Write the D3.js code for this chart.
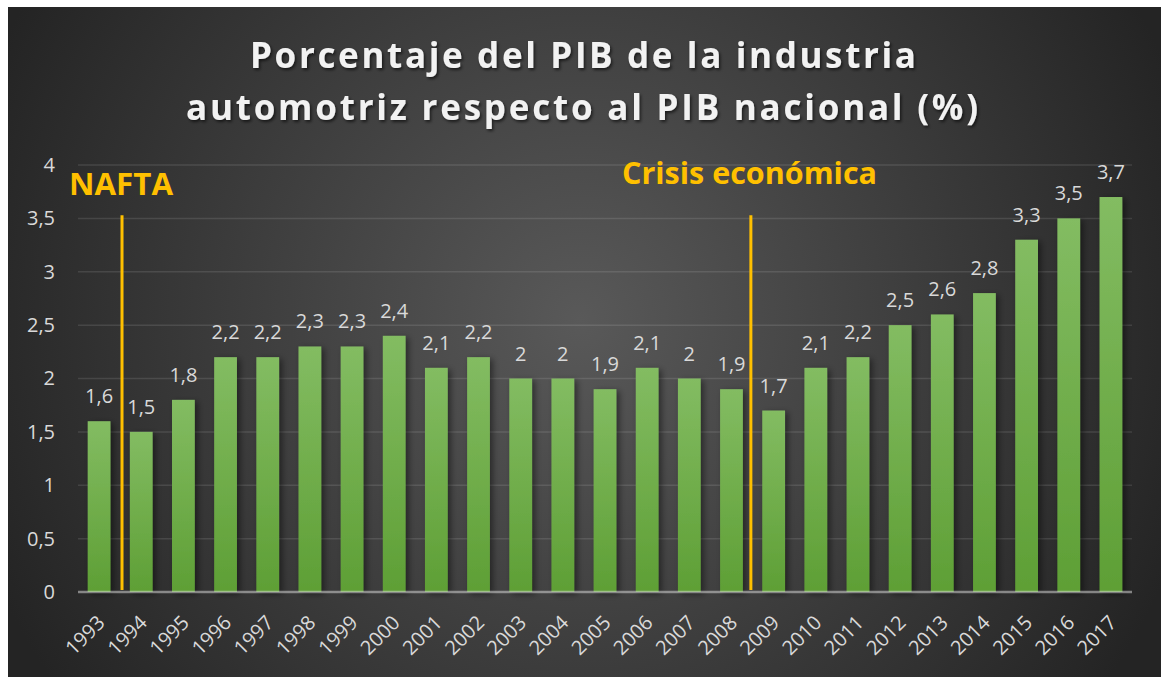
<!DOCTYPE html>
<html>
<head>
<meta charset="utf-8">
<script src="https://cdn.jsdelivr.net/npm/d3@7"></script>
<style>
  html, body { margin: 0; padding: 0; background: #ffffff; }
  svg { display: block; }
  text { font-family: "Open Sans", "Noto Sans", sans-serif; }
</style>
</head>
<body>
<svg id="chart" width="1164" height="677"></svg>
<script>
// ---- data ----
const years = ["1993","1994","1995","1996","1997","1998","1999","2000","2001","2002","2003","2004","2005","2006","2007","2008","2009","2010","2011","2012","2013","2014","2015","2016","2017"];
const values = [1.6,1.5,1.8,2.2,2.2,2.3,2.3,2.4,2.1,2.2,2,2,1.9,2.1,2,1.9,1.7,2.1,2.2,2.5,2.6,2.8,3.3,3.5,3.7];
const yTicks = [0,0.5,1,1.5,2,2.5,3,3.5,4];
const titleLines = ["Porcentaje del PIB de la industria", "automotriz respecto al PIB nacional (%)"];
const annotationLabels = ["NAFTA", "Crisis económica"];
const annotationPositions = [1.044, 15.96];   // in category steps from the left edge
const annotationTop = 3.53;

// ---- layout ----
const W = 1164, H = 677;
const plot = { left: 78, right: 1132, top: 165, bottom: 592 };

const svg = d3.select("#chart");
const defs = svg.append("defs");

const bg = defs.append("radialGradient").attr("id","bg")
  .attr("gradientUnits","userSpaceOnUse")
  .attr("cx", 580).attr("cy", 320).attr("r", 640);
bg.append("stop").attr("offset","0%").attr("stop-color","#595959");
bg.append("stop").attr("offset","100%").attr("stop-color","#242424");

const barGrad = defs.append("linearGradient").attr("id","barGrad")
  .attr("x1",0).attr("y1",0).attr("x2",0).attr("y2",1);
barGrad.append("stop").attr("offset","0%").attr("stop-color","#83bc62");
barGrad.append("stop").attr("offset","100%").attr("stop-color","#5e9f35");

const shadow = defs.append("filter").attr("id","shadow")
  .attr("x","-30%").attr("y","-10%").attr("width","180%").attr("height","130%");
shadow.append("feDropShadow").attr("dx",3).attr("dy",2).attr("stdDeviation",3)
  .attr("flood-color","#000").attr("flood-opacity",0.45);

const tshadow = defs.append("filter").attr("id","tshadow")
  .attr("x","-10%").attr("y","-30%").attr("width","120%").attr("height","160%");
tshadow.append("feDropShadow").attr("dx",1.5).attr("dy",2).attr("stdDeviation",1.5)
  .attr("flood-color","#000").attr("flood-opacity",0.6);

svg.append("rect").attr("x",8).attr("y",7).attr("width",1153).attr("height",670)
  .attr("fill","url(#bg)");

// ---- scales ----
const x = d3.scaleBand().domain(years).range([plot.left, plot.right])
  .paddingInner(0.46).paddingOuter(0.23);
const y = d3.scaleLinear().domain([0,4]).range([plot.bottom, plot.top]);

const locale = d3.formatLocale({decimal: ",", thousands: ".", grouping: [3], currency: ["","€"]});
const fmt = v => locale.format(",")(v);

// ---- gridlines ----
svg.append("g").selectAll("line").data(yTicks.filter(t => t > 0)).join("line")
  .attr("x1", plot.left).attr("x2", plot.right)
  .attr("y1", d => y(d)).attr("y2", d => y(d))
  .attr("stroke","rgba(255,255,255,0.11)").attr("stroke-width",1.5);

// ---- y axis labels ----
const yAxis = d3.axisLeft(y).tickValues(yTicks).tickFormat(fmt).tickSize(0).tickPadding(23);
const yg = svg.append("g").attr("transform",`translate(${plot.left},0)`).call(yAxis);
yg.select(".domain").remove();
yg.selectAll("text").attr("fill","#d9d9d9").attr("font-size",20)
  .style("font-family","'Open Sans', sans-serif");

// ---- bars ----
svg.append("g").selectAll("rect").data(years).join("rect")
  .attr("x", d => x(d))
  .attr("width", x.bandwidth())
  .attr("y", (d,i) => y(values[i]))
  .attr("height", (d,i) => y(0) - y(values[i]))
  .attr("fill","url(#barGrad)")
  .attr("filter","url(#shadow)");

// ---- x axis line ----
svg.append("line").attr("x1", plot.left).attr("x2", plot.right)
  .attr("y1", y(0)).attr("y2", y(0))
  .attr("stroke","rgba(225,225,225,0.5)").attr("stroke-width",2.5);

// ---- x labels ----
const xAxis = d3.axisBottom(x).tickSize(0).tickPadding(0);
const xg = svg.append("g").attr("transform",`translate(0,${y(0)})`).call(xAxis);
xg.select(".domain").remove();
xg.selectAll("text")
  .attr("fill","#d9d9d9").attr("font-size",20)
  .style("font-family","'Open Sans', sans-serif")
  .attr("text-anchor","end")
  .attr("y",0).attr("dy",0)
  .attr("transform","translate(7,32) rotate(-45)");

// ---- data labels ----
svg.append("g").selectAll("text").data(years).join("text")
  .attr("x", d => x(d) + x.bandwidth()/2)
  .attr("y", (d,i) => y(values[i]) - 18)
  .attr("text-anchor","middle")
  .attr("fill","#d9d9d9").attr("font-size",20)
  .text((d,i) => fmt(values[i]));

// ---- annotations ----
const step = x.step();
svg.append("g").selectAll("line").data(annotationPositions).join("line")
  .attr("x1", p => plot.left + p*step).attr("x2", p => plot.left + p*step)
  .attr("y1", y(annotationTop)).attr("y2", y(0) - 2)
  .attr("stroke","#ffc000").attr("stroke-width",3);

const annX = [69, 622];
const annY = [195, 184];
const annW = [104, 255];
svg.append("g").selectAll("text").data(annotationLabels).join("text")
  .attr("x", (d,i) => annX[i]).attr("y", (d,i) => annY[i])
  .attr("fill","#ffc000").attr("font-size",30).attr("font-weight",700)
  .attr("textLength", (d,i) => annW[i]).attr("lengthAdjust","spacingAndGlyphs")
  .text(d => d);

// ---- title ----
const titleX = [250, 186];
const titleW = [666, 792];
const titleY = [68, 120];
svg.append("g").selectAll("text").data(titleLines).join("text")
  .attr("x", (d,i) => titleX[i]).attr("y", (d,i) => titleY[i])
  .attr("fill","#f2f2f2").attr("font-size",35).attr("font-weight",700)
  .attr("textLength", (d,i) => titleW[i]).attr("lengthAdjust","spacing")
  .attr("filter","url(#tshadow)")
  .text(d => d);
</script>
</body>
</html>
